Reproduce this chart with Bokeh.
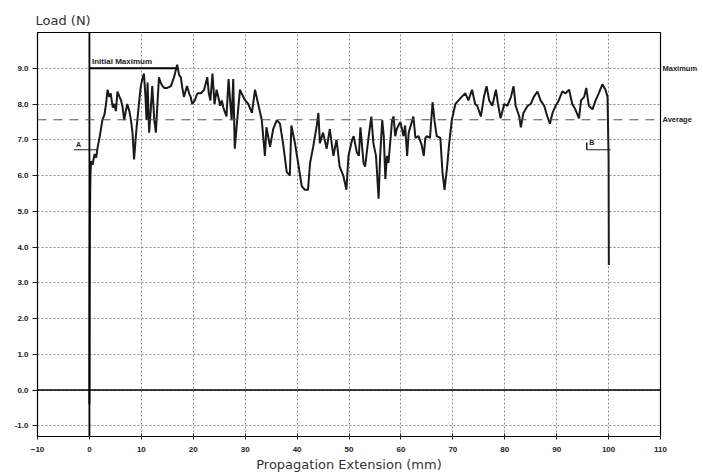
from bokeh.plotting import figure
from bokeh.models import (Span, Label, FixedTicker, NumeralTickFormatter, LinearAxis,
                          CustomJSTickFormatter, ColumnDataSource, Range1d)
from bokeh.embed import file_html
from bokeh.resources import INLINE

# ---- data ----
extension_mm = [
    0.0, 0.05, 0.1, 0.2, 0.3, 0.6, 1.0, 1.3, 1.6, 2.0, 2.5, 2.9, 3.2, 3.5, 3.8, 4.1, 4.5, 4.8,
    5.1, 5.4, 5.8, 6.1, 6.4, 6.7, 7.0, 7.3, 7.7, 8.0, 8.3, 8.6, 9.0, 9.3, 9.6, 9.9, 10.2, 10.5,
    10.8, 11.0, 11.2, 11.5, 11.8, 12.1, 12.5, 12.8, 13.1, 13.4, 13.7, 14.1, 14.4, 15.0, 15.7,
    16.3, 16.9, 17.3, 17.6, 17.9, 18.2, 18.8, 19.2, 19.5, 19.8, 20.3, 20.8, 21.5, 22.1, 22.7,
    23.0, 23.3, 23.7, 24.1, 24.5, 25.2, 25.5, 25.8, 26.4, 26.8, 27.1, 27.4, 27.7, 28.0, 28.4,
    29.0, 29.3, 30.0, 30.6, 31.3, 31.9, 32.5, 33.2, 33.8, 34.1, 34.8, 35.4, 36.1, 36.7, 37.3,
    38.0, 38.6, 38.9, 39.6, 40.2, 40.9, 41.5, 42.1, 42.5, 43.1, 43.8, 44.1, 44.4, 45.0, 45.7,
    46.3, 47.0, 47.6, 48.2, 48.9, 49.5, 49.9, 50.6, 50.9, 51.5, 51.9, 52.2, 52.8, 53.1, 53.8,
    54.3, 54.7, 55.2, 55.7, 56.0, 56.4, 56.7, 57.0, 57.3, 57.6, 58.3, 58.6, 58.9, 59.2, 59.9,
    60.5, 60.8, 61.2, 61.5, 62.1, 62.4, 62.8, 63.4, 64.0, 64.4, 64.7, 65.0, 65.6, 66.1, 66.5,
    66.9, 67.6, 68.0, 68.4, 68.9, 69.3, 69.8, 70.5, 71.1, 71.7, 72.4, 73.0, 73.7, 74.3, 74.7,
    75.4, 76.0, 76.5, 77.0, 77.6, 78.3, 78.7, 79.2, 79.9, 80.5, 81.2, 81.7, 82.1, 82.8, 83.1,
    83.6, 84.4, 85.0, 85.6, 86.3, 86.9, 87.6, 88.2, 88.7, 89.2, 89.8, 90.4, 91.1, 91.7, 92.4,
    93.0, 93.6, 94.3, 94.7, 95.3, 95.7, 96.2, 96.9, 97.5, 98.1, 98.8, 99.4, 99.8, 100.0, 100.05,
]
load_n = [
    -0.4, 3.4, 5.0, 6.0, 6.4, 6.3, 6.6, 6.5, 6.8, 7.1, 7.55, 7.7, 8.0, 8.4, 8.2, 8.3, 7.9, 8.0,
    7.8, 8.35, 8.2, 8.1, 7.9, 7.55, 7.8, 8.0, 7.8, 7.55, 7.2, 6.45, 7.2, 7.65, 8.1, 8.5, 8.7, 8.85,
    8.2, 7.55, 8.6, 7.2, 7.8, 8.5, 7.55, 7.2, 8.0, 8.75, 8.6, 8.5, 8.45, 8.45, 8.5,
    8.75, 9.1, 8.8, 8.75, 8.45, 8.2, 8.5, 8.3, 8.2, 8.0, 8.1, 8.3, 8.3, 8.4, 8.75,
    8.3, 8.1, 8.85, 8.0, 8.4, 7.95, 8.1, 7.9, 7.65, 8.7, 8.1, 7.55, 8.7, 6.75, 7.45,
    8.4, 8.3, 8.1, 8.0, 7.75, 8.4, 8.0, 7.55, 6.55, 7.35, 6.8, 7.3, 7.55, 7.45, 6.9,
    6.1, 6.0, 7.4, 6.9, 6.35, 5.7, 5.6, 5.6, 6.35, 6.8, 7.4, 7.75, 6.9, 7.2, 6.75,
    7.3, 6.55, 7.0, 6.25, 6.0, 5.6, 6.55, 7.0, 7.1, 6.65, 6.55, 7.35, 6.35, 6.25, 7.1,
    7.65, 6.9, 6.55, 5.35, 6.55, 7.55, 7.1, 5.9, 6.55, 6.35, 7.55, 7.65, 7.1, 7.3, 7.5,
    7.1, 7.4, 6.55, 7.2, 7.5, 7.65, 7.05, 7.1, 6.85, 6.55, 7.05, 7.1, 7.05, 8.05, 7.5,
    7.1, 7.05, 6.1, 5.6, 6.25, 6.9, 7.55, 8.0, 8.1, 8.2, 8.3, 8.1, 8.4, 8.0, 7.95,
    7.65, 8.2, 8.5, 8.1, 7.95, 8.4, 8.0, 7.6, 8.0, 7.95, 8.2, 8.5, 7.95, 7.65, 7.35,
    7.75, 7.95, 8.0, 8.2, 8.35, 8.1, 7.95, 7.65, 7.45, 7.75, 7.95, 8.1, 8.35, 8.3, 8.4,
    8.0, 7.85, 7.6, 8.1, 8.2, 8.45, 7.95, 7.85, 8.1, 8.3, 8.55, 8.4, 8.2, 6.5, 3.5,
]

x_ticks = [-10, 0, 10, 20, 30, 40, 50, 60, 70, 80, 90, 100, 110]
y_ticks = [-1.0, 0.0, 1.0, 2.0, 3.0, 4.0, 5.0, 6.0, 7.0, 8.0, 9.0]

initial_max_load = 9.0
initial_max_end_mm = 17.0
average_load = 7.56
marker_load = 6.72
marker_a_mm = [-3.0, 1.5]
marker_b_mm = [95.8, 100.4]

FONT = "Liberation Sans"
TITLE_FONT = "DejaVu Sans"

p = figure(width=700, height=475, output_backend="svg", toolbar_location=None,
           x_range=Range1d(-10, 110), y_range=Range1d(-1.3, 10.0),
           min_border_left=37, min_border_right=38, min_border_top=32, min_border_bottom=39)
p.background_fill_color = "white"
p.border_fill_color = "white"
p.outline_line_color = "black"
p.outline_line_width = 1.2

# title (y axis name) at top left
p.title.text = "Load (N)"
p.title.align = "left"
p.title.offset = -2
p.title.standoff = 10
p.title.text_font = TITLE_FONT
p.title.text_font_size = "13px"
p.title.text_font_style = "normal"
p.title.text_color = "#333"

# axes
p.xaxis.ticker = FixedTicker(ticks=x_ticks)
p.yaxis.ticker = FixedTicker(ticks=y_ticks)
p.yaxis.formatter = NumeralTickFormatter(format="0.0")
for ax in (p.xaxis[0], p.yaxis[0]):
    ax.axis_line_color = "black"
    ax.major_tick_line_color = "#222"
    ax.minor_tick_line_color = None
    ax.major_label_text_font = FONT
    ax.major_label_text_font_size = "8px"
    ax.major_label_text_font_style = "bold"
    ax.major_label_text_color = "#222"
p.yaxis.major_tick_out = 5
p.yaxis.major_tick_in = 0
p.yaxis.major_label_standoff = 4
p.xaxis.major_tick_out = 3
p.xaxis.major_tick_in = 3
p.xaxis.major_label_standoff = 7
p.xaxis.axis_label = "Propagation Extension (mm)"
p.xaxis.axis_label_text_font = TITLE_FONT
p.xaxis.axis_label_text_font_size = "13px"
p.xaxis.axis_label_text_font_style = "normal"
p.xaxis.axis_label_text_color = "#333"
p.xaxis.axis_label_standoff = 2

# right-hand labels for Maximum / Average
right_ax = LinearAxis(ticker=FixedTicker(ticks=[initial_max_load, average_load]),
                      formatter=CustomJSTickFormatter(code="return tick > 8.5 ? 'Maximum' : 'Average';"))
right_ax.axis_line_color = None
right_ax.major_tick_line_color = None
right_ax.minor_tick_line_color = None
right_ax.major_tick_out = 0
right_ax.major_tick_in = 0
right_ax.major_label_standoff = 2
right_ax.major_label_text_font = FONT
right_ax.major_label_text_font_size = "7.5px"
right_ax.major_label_text_font_style = "bold"
right_ax.major_label_text_color = "#222"
p.add_layout(right_ax, "right")

# grid
for g in (p.xgrid[0], p.ygrid[0]):
    g.grid_line_color = "#8a8a8a"
    g.grid_line_dash = "2 2"
    g.grid_line_width = 1

# reference lines
p.add_layout(Span(location=0, dimension="width", line_color="black", line_width=1.5))
p.add_layout(Span(location=0, dimension="height", line_color="black", line_width=1.8))
p.add_layout(Span(location=average_load, dimension="width", line_color="#555",
                  line_dash="9 7", line_width=1.2))
p.line([0, initial_max_end_mm], [initial_max_load, initial_max_load], line_color="black", line_width=1.8)

# markers A and B
p.line(marker_a_mm, [marker_load, marker_load], line_color="#222", line_width=1.2)
p.line(marker_b_mm, [marker_load, marker_load], line_color="#222", line_width=1.2)
p.line([marker_b_mm[0], marker_b_mm[0]], [marker_load, marker_load + 0.2], line_color="#222", line_width=1.5)

# data
src = ColumnDataSource(dict(x=extension_mm, y=load_n))
p.line("x", "y", source=src, line_color="#1a1a1a", line_width=2)

# texts inside the frame
def lab(x, y, t, size, align="left", baseline="middle", color="#222", style="normal"):
    p.add_layout(Label(x=x, y=y, text=t, text_font=FONT, text_font_size=size,
                       text_align=align, text_baseline=baseline, text_color=color,
                       text_font_style=style))

lab(0.5, 9.2, "Initial Maximum", "8px", style="bold")
lab(-2.6, marker_load + 0.15, "A", "7px", style="bold")
lab(96.3, marker_load + 0.2, "B", "7px", style="bold")

open("out.html", "w").write(file_html(p, INLINE))
